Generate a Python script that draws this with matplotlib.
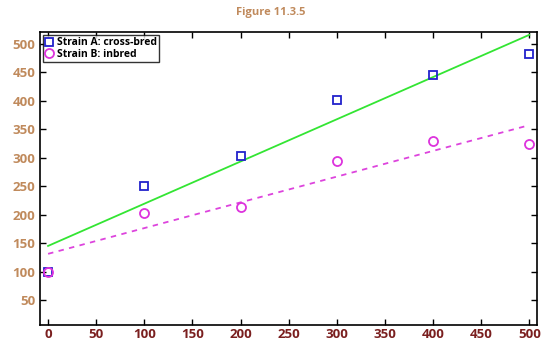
import numpy as np
import matplotlib.pyplot as plt

plt.rcParams['font.family'] = ['Open Sans', 'DejaVu Sans']

x = [0, 100, 200, 300, 400, 500]
strain_a = [100, 250, 303, 402, 446, 482]
strain_b = [100, 203, 213, 295, 330, 324]
xticks = [0, 50, 100, 150, 200, 250, 300, 350, 400, 450, 500]
yticks = [50, 100, 150, 200, 250, 300, 350, 400, 450, 500]

fig = plt.figure(figsize=(5.42, 3.45), dpi=100)
ax = fig.add_axes([40 / 542, 20 / 345, 497 / 542, 293 / 345])

xs = np.array(x, dtype=float)
pa = np.polyfit(xs, strain_a, 1)
pb = np.polyfit(xs, strain_b, 1)
ax.plot(xs, np.polyval(pa, xs), color='#33e533', lw=1.3)
ax.plot(xs, np.polyval(pb, xs), color='#dd44dd', lw=1.3, ls=(0, (3, 3)))

ax.plot(x, strain_a, 's', mfc='none', mec='#2222cc', mew=1.3, ms=5.5,
        label='Strain A: cross-bred')
ax.plot(x, strain_b, 'o', mfc='none', mec='#dd33dd', mew=1.3, ms=6.5,
        label='Strain B: inbred')

ax.set_xlim(-8.4, 508)
ax.set_ylim(6, 521)
ax.set_xticks(xticks)
ax.set_yticks(yticks)
ax.tick_params(direction='in', top=True, right=True, length=4, width=1)
ax.tick_params(axis='x', labelcolor='#7a1f1f', labelsize=9.5, pad=2)
ax.tick_params(axis='y', labelcolor='#c08a5c', labelsize=9.5)
for lab in ax.get_xticklabels() + ax.get_yticklabels():
    lab.set_fontweight('bold')
for s in ax.spines.values():
    s.set_linewidth(1.2)

fig.text(0.5, 0.965, 'Figure 11.3.5', ha='center', va='center',
         color='#c08a5c', fontsize=8, fontweight='bold')

leg = ax.legend(loc='upper left', prop={'weight': 'bold', 'size': 7.5},
                frameon=True, fancybox=False, edgecolor='black',
                handlelength=0.8, handletextpad=0.3, borderpad=0.2,
                labelspacing=0.05, borderaxespad=0.3)
leg.get_frame().set_linewidth(1.0)

fig.savefig('out.png', dpi=100)
